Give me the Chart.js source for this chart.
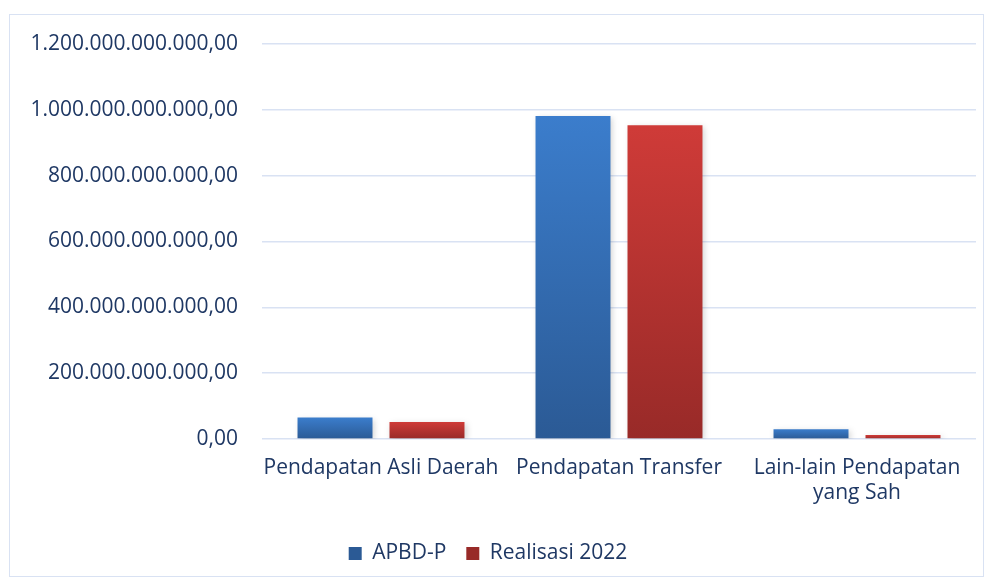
<!DOCTYPE html>
<html>
<head>
<meta charset="utf-8">
<script src="https://cdn.jsdelivr.net/npm/chart.js@4.4.0/dist/chart.umd.min.js"></script>
<style>
  html, body { margin: 0; padding: 0; background: #fff; }
  #wrap { position: relative; width: 992px; height: 583px; }
  #frame { position: absolute; left: 9px; top: 14px; width: 975px; height: 563px; border: 1.5px solid #d9e2f3; box-sizing: border-box; pointer-events: none; }
</style>
</head>
<body>
<div id="wrap">
  <canvas id="revenueChart" width="992" height="583"></canvas>
  <div id="frame"></div>
</div>
<script>
const categories = ['Pendapatan Asli Daerah', 'Pendapatan Transfer', ['Lain-lain Pendapatan', 'yang Sah']];
const seriesNames = ['APBD-P', 'Realisasi 2022'];
const apbdValues = [65e9, 981e9, 30e9];
const realisasiValues = [52e9, 953e9, 12e9];
const yTicks = [0, 200e9, 400e9, 600e9, 800e9, 1000e9, 1200e9];

const textColor = '#1f3864';
const fontFamily = '"Open Sans", Lato, sans-serif';
const fontSize = 21;

function formatIdr(v) {
    const whole = Math.round(v).toString().replace(/\B(?=(\d{3})+(?!\d))/g, '.');
    return whole + ',00';
}

function barGradient(top, bottom) {
    return function(context) {
        if (context.type !== 'data') return top;
        const chart = context.chart;
        const y = chart.scales.y;
        if (!y || !chart.chartArea) return top;
        const yTop = y.getPixelForValue(context.parsed.y);
        const yBase = y.getPixelForValue(0);
        if (!isFinite(yTop) || yBase - yTop < 1) return top;
        const g = chart.ctx.createLinearGradient(0, yTop, 0, yBase);
        g.addColorStop(0, top);
        g.addColorStop(1, bottom);
        return g;
    };
}

const shadowPlugin = {
    id: 'barShadow',
    beforeDatasetsDraw(chart) {
        const c = chart.ctx;
        c.save();
        c.shadowColor = 'rgba(0,0,0,0.18)';
        c.shadowBlur = 6;
        c.shadowOffsetX = 2;
        c.shadowOffsetY = 2;
    },
    afterDatasetsDraw(chart) {
        chart.ctx.restore();
    }
};

const ctx = document.getElementById('revenueChart').getContext('2d');
const revenueChart = new Chart(ctx, {
    type: 'bar',
    data: {
        labels: categories,
        datasets: [{
            label: seriesNames[0],
            data: apbdValues,
            backgroundColor: barGradient('#3b7dcc', '#2b5a95')
        }, {
            label: seriesNames[1],
            data: realisasiValues,
            backgroundColor: barGradient('#cf3b38', '#982a28')
        }]
    },
    options: {
        responsive: false,
        animation: false,
        layout: { padding: { left: 0, top: 44, right: 16, bottom: 9 } },
        datasets: {
            bar: { categoryPercentage: 0.773, barPercentage: 0.815 }
        },
        scales: {
            x: {
                grid: { display: false },
                border: { display: false },
                ticks: {
                    color: textColor,
                    font: { family: fontFamily, size: fontSize },
                    padding: 8,
                    maxRotation: 0,
                    autoSkip: false
                },
                afterFit(scale) { scale.height = 84; }
            },
            y: {
                min: 0,
                max: 1200e9,
                afterBuildTicks(scale) { scale.ticks = yTicks.map(v => ({ value: v })); },
                grid: { color: '#d9e2f3', lineWidth: 1.5, drawTicks: false },
                border: { display: false },
                ticks: {
                    color: textColor,
                    font: { family: fontFamily, size: fontSize },
                    padding: 24,
                    callback: v => formatIdr(v)
                },
                afterFit(scale) { scale.width = 262; }
            }
        },
        plugins: {
            legend: {
                position: 'bottom',
                labels: {
                    color: textColor,
                    font: { family: fontFamily, size: fontSize },
                    boxWidth: 13,
                    boxHeight: 13,
                    padding: 20
                }
            },
            tooltip: { enabled: false }
        }
    },
    plugins: [shadowPlugin]
});
</script>
</body>
</html>
